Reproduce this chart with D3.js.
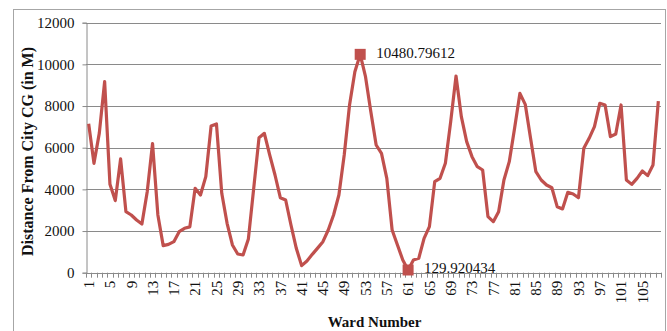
<!DOCTYPE html>
<html>
<head>
<meta charset="utf-8">
<script src="https://cdn.jsdelivr.net/npm/d3@7"></script>
<style>
  html, body { margin: 0; padding: 0; background: #fff; }
  svg { display: block; }
</style>
</head>
<body>
<div id="chart"></div>
<script>
// Distance of each ward from the city CG, in metres (wards 1..108)
const distances = [
  7150, 5250, 6700, 9170, 4240, 3460, 5460, 2930, 2770, 2530,
  2340, 3890, 6200, 2770, 1300, 1360, 1490, 1970, 2130, 2200,
  4050, 3730, 4610, 7040, 7140, 3810, 2370, 1330, 900, 850,
  1620, 4050, 6480, 6690, 5650, 4690, 3600, 3490, 2290, 1170,
  340, 560, 880, 1180, 1490, 2050, 2770, 3730, 5650, 8050,
  9650, 10480.79612, 9410, 7730, 6130, 5730, 4530, 2050, 1330, 610,
  129.920434, 610, 690, 1650, 2210, 4370, 4530, 5250, 7250, 9440,
  7490, 6290, 5570, 5090, 4930, 2690, 2450, 2930, 4450, 5330,
  6930, 8610, 8080, 6450, 4850, 4450, 4210, 4080, 3170, 3060,
  3860, 3780, 3600, 5970, 6450, 7010, 8130, 8050, 6530, 6660,
  8050, 4450, 4240, 4530, 4880, 4660, 5170, 8240
]
const wards = distances.map((_, i) => i + 1)
const xTickLabels = [1, 5, 9, 13, 17, 21, 25, 29, 33, 37, 41, 45, 49, 53, 57,
  61, 65, 69, 73, 77, 81, 85, 89, 93, 97, 101, 105]
const yTicks = [0, 2000, 4000, 6000, 8000, 10000, 12000]
// wards that get a square marker and a value label
const markedWards = [52, 61]

const W = 667, H = 331
const FONT = "'Liberation Serif', 'Times New Roman', serif"
const LINE = '#C0504D'
const GRID = '#8a8a8a'
const INK = '#111'

const svg = d3.select('#chart').append('svg')
  .attr('width', W).attr('height', H)
  .style('font-family', FONT)

// chart border
svg.append('rect')
  .attr('x', 13.5).attr('y', 9.5)
  .attr('width', 652).attr('height', 340)
  .attr('fill', 'none').attr('stroke', '#a6a6a6')

const plot = { left: 86, right: 661, top: 22.7, bottom: 272.7 }

const x = d3.scaleBand().domain(wards).range([plot.left, plot.right]).padding(0)
const y = d3.scaleLinear().domain([0, 12000]).range([plot.bottom, plot.top])
const cx = w => x(w) + x.bandwidth() / 2

// horizontal gridlines
svg.append('g')
  .selectAll('line')
  .data(yTicks.filter(t => t > 0))
  .join('line')
  .attr('x1', plot.left).attr('x2', plot.right)
  .attr('y1', d => Math.round(y(d)) + 0.5).attr('y2', d => Math.round(y(d)) + 0.5)
  .attr('stroke', GRID).attr('stroke-width', 1)

// y axis
const yAxis = svg.append('g')
  .attr('transform', `translate(${plot.left + 0.5},0)`)
  .call(d3.axisLeft(y).tickValues(yTicks).tickSize(4).tickPadding(8).tickFormat(d3.format('d')))
yAxis.select('.domain').attr('stroke', GRID)
yAxis.selectAll('line').attr('stroke', GRID)
yAxis.selectAll('text')
  .attr('fill', INK)
  .attr('font-size', '15px')
  .attr('font-family', FONT)

// x axis line and tick marks at every category edge
const xg = svg.append('g')
xg.append('line')
  .attr('x1', plot.left).attr('x2', plot.right)
  .attr('y1', Math.round(plot.bottom) + 0.5).attr('y2', Math.round(plot.bottom) + 0.5)
  .attr('stroke', GRID)
xg.selectAll('line.tick')
  .data(wards.map(w => x(w)).concat([plot.right]))
  .join('line')
  .attr('class', 'tick')
  .attr('x1', d => Math.round(d) + 0.5).attr('x2', d => Math.round(d) + 0.5)
  .attr('y1', plot.bottom).attr('y2', plot.bottom + 5)
  .attr('stroke', GRID)

xg.selectAll('text')
  .data(xTickLabels)
  .join('text')
  .attr('transform', d => `translate(${cx(d)},${plot.bottom + 8}) rotate(-90)`)
  .attr('text-anchor', 'end')
  .attr('dy', '0.35em')
  .attr('font-size', '15px')
  .attr('fill', INK)
  .text(d => d)

// the series
svg.append('path')
  .datum(distances)
  .attr('fill', 'none')
  .attr('stroke', LINE)
  .attr('stroke-width', 3.2)
  .attr('stroke-linejoin', 'round')
  .attr('d', d3.line().x((d, i) => cx(wards[i])).y(d => y(d)))

const marks = svg.append('g')
markedWards.forEach(w => {
  const v = distances[w - 1]
  marks.append('rect')
    .attr('x', cx(w) - 5.5).attr('y', y(v) - 5.5)
    .attr('width', 11).attr('height', 11)
    .attr('fill', LINE)
  marks.append('text')
    .attr('x', cx(w) + 16).attr('y', y(v) - 2)
    .attr('dy', '0.35em')
    .attr('font-size', '15px')
    .attr('fill', INK)
    .text(String(v))
})

// axis titles
svg.append('text')
  .attr('transform', `translate(27,151.5) rotate(-90)`)
  .attr('text-anchor', 'middle')
  .attr('dy', '0.35em')
  .attr('font-size', '16px')
  .attr('font-weight', 'bold')
  .attr('fill', INK)
  .text('Distance From City CG (in M)')

svg.append('text')
  .attr('x', (plot.left + plot.right) / 2 + 1)
  .attr('y', 322)
  .attr('text-anchor', 'middle')
  .attr('dy', '0.35em')
  .attr('font-size', '15px')
  .attr('font-weight', 'bold')
  .attr('fill', INK)
  .text('Ward Number')
</script>
</body>
</html>
